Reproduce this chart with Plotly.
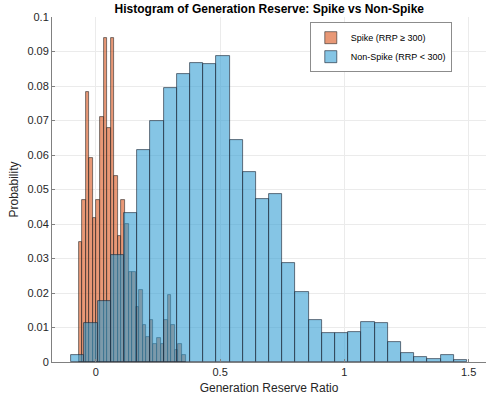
import plotly.graph_objects as go
import numpy as np

# ---- data ----
spike_bin_start = -0.0698
spike_bin_width = 0.01436
spike_prob = [0.0348, 0.0469, 0.0782, 0.0592, 0.0416, 0.0469, 0.0711, 0.0939, 0.0678, 0.0939,
              0.0540, 0.0366, 0.0469, 0.0400, 0.0260, 0.0260, 0.0160, 0.0208, 0.0107, 0.0073,
              0.0123, 0.0053, 0.0071, 0.0053, 0.0123, 0.0193, 0.0107, 0.0036, 0.0053, 0.0019]

nonspike_bin_start = -0.0992
nonspike_bin_width = 0.05308
nonspike_prob = [0.0021, 0.0113, 0.0177, 0.0310, 0.0431, 0.0615, 0.0700, 0.0794, 0.0835, 0.0866,
                 0.0864, 0.0887, 0.0644, 0.0550, 0.0473, 0.0486, 0.0286, 0.0203, 0.0123, 0.0084,
                 0.0084, 0.0088, 0.0116, 0.0113, 0.0058, 0.0027, 0.00145, 0.0008, 0.0019, 0.0006]

x_ticks = [0, 0.5, 1, 1.5]
x_tick_labels = ["0", "0.5", "1", "1.5"]
y_ticks = [round(0.01 * i, 2) for i in range(11)]
y_tick_labels = ["0"] + [f"{v:g}" for v in y_ticks[1:]]

spike_centers = [spike_bin_start + spike_bin_width * (i + 0.5) for i in range(len(spike_prob))]
nonspike_centers = [nonspike_bin_start + nonspike_bin_width * (i + 0.5) for i in range(len(nonspike_prob))]

FONT = "Liberation Sans, Arial, Helvetica, sans-serif"

fig = go.Figure()
fig.add_trace(go.Bar(
    x=spike_centers, y=spike_prob, width=[spike_bin_width] * len(spike_prob),
    name="Spike (RRP ≥ 300)",
    marker=dict(color="rgba(217,84,26,0.6)", line=dict(color="rgba(40,40,40,0.75)", width=0.8)),
))
fig.add_trace(go.Bar(
    x=nonspike_centers, y=nonspike_prob, width=[nonspike_bin_width] * len(nonspike_prob),
    name="Non-Spike (RRP < 300)",
    marker=dict(color="rgba(45,155,210,0.58)", line=dict(color="rgba(30,40,55,0.8)", width=0.8)),
))

fig.update_layout(
    width=487, height=400,
    barmode="overlay", bargap=0,
    margin=dict(l=52, r=1, t=17, b=38),
    paper_bgcolor="white", plot_bgcolor="white",
    font=dict(family=FONT, size=11, color="#262626"),
    title=dict(text="<b>Histogram of Generation Reserve: Spike vs Non-Spike</b>",
               x=0.553, xanchor="center", y=0.977, yanchor="middle",
               font=dict(size=12, color="#000000", family=FONT)),
    legend=dict(x=0.594, y=0.985, xanchor="left", yanchor="top",
                bgcolor="white", bordercolor="#8c8c8c", borderwidth=1,
                font=dict(size=9, color="#000000", family=FONT),
                itemwidth=30, tracegroupgap=0),
    showlegend=True,
)
fig.update_xaxes(
    range=[-0.1767, 1.57], tickvals=x_ticks, ticktext=x_tick_labels,
    showgrid=True, gridcolor="#ebebeb", gridwidth=1,
    showline=True, linecolor="#808080", linewidth=1,
    ticks="inside", ticklen=3, tickcolor="#808080",
    zeroline=False,
    title=dict(text="Generation Reserve Ratio", font=dict(size=12, color="#262626"), standoff=6),
)
fig.update_yaxes(
    range=[0, 0.1], tickvals=y_ticks, ticktext=y_tick_labels,
    showgrid=True, gridcolor="#ebebeb", gridwidth=1,
    showline=True, linecolor="#808080", linewidth=1,
    ticks="inside", ticklen=3, tickcolor="#808080",
    zeroline=False,
    title=dict(text="Probability", font=dict(size=12, color="#262626"), standoff=6),
)

fig.write_html("out.html")
